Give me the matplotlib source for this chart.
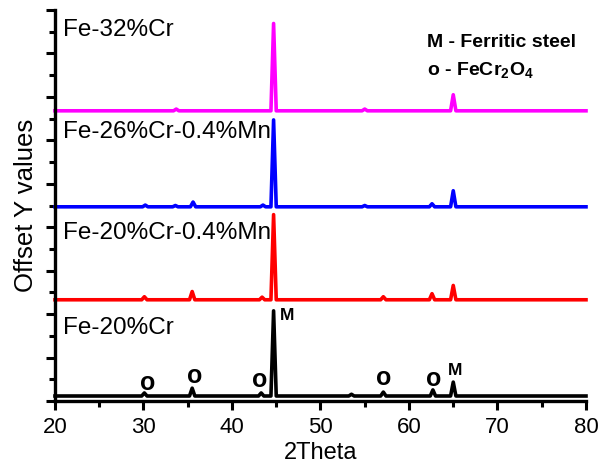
import matplotlib
matplotlib.use('Agg')
import matplotlib.pyplot as plt

plt.rcParams['font.family'] = ['Liberation Sans', 'DejaVu Sans']
plt.rcParams['mathtext.fontset'] = 'custom'
plt.rcParams['mathtext.rm'] = 'Liberation Sans:bold'
plt.rcParams['mathtext.bf'] = 'Liberation Sans:bold'

# XRD traces, bottom to top: baseline offset, peak positions (2theta) and heights
names = ["Fe-20%Cr", "Fe-20%Cr-0.4%Mn", "Fe-26%Cr-0.4%Mn", "Fe-32%Cr"]
colors = ["black", "#FF0000", "#0000FF", "#FF00FF"]
baselines = [0.115, 2.33, 4.47, 6.68]
peak_pos = [
    [30.1, 35.5, 43.3, 44.7, 53.5, 57.1, 62.7, 65.0],
    [30.1, 35.5, 43.4, 44.7, 57.1, 62.6, 65.0],
    [30.2, 33.6, 35.6, 43.5, 44.7, 55.0, 62.6, 65.0],
    [33.7, 44.7, 55.0, 65.0],
]
peak_h = [
    [0.07, 0.18, 0.07, 1.96, 0.04, 0.09, 0.14, 0.32],
    [0.07, 0.19, 0.06, 1.96, 0.07, 0.14, 0.33],
    [0.04, 0.03, 0.11, 0.04, 2.00, 0.03, 0.07, 0.37],
    [0.04, 2.01, 0.04, 0.37],
]
label_y = [1.68, 3.87, 6.20, 8.55]

# phase markers on the bottom trace
o_x = [30.5, 35.8, 43.1, 57.1, 62.8]
o_y = [0.42, 0.58, 0.48, 0.54, 0.50]
m_x = [46.2, 65.2]
m_y = [1.96, 0.71]

fig = plt.figure(figsize=(5.99, 4.66), dpi=100)
ax = fig.add_axes([0.0918, 0.1395, 0.8865, 0.839])

hw = 0.3
for base, pos, hts, c in zip(baselines, peak_pos, peak_h, colors):
    xs, ys = [20], [base]
    for p, h in zip(pos, hts):
        xs += [p - hw, p, p + hw]
        ys += [base, base + h, base]
    xs.append(80)
    ys.append(base)
    ax.plot(xs, ys, color=c, lw=2.6, solid_joinstyle='round', clip_on=False)

for name, y in zip(names, label_y):
    ax.text(20.9, y, name, fontsize=17.5, va='center', ha='left')

for x, y in zip(o_x, o_y):
    ax.text(x, y, 'o', fontsize=18, fontweight='bold', ha='center', va='center')
for x, y in zip(m_x, m_y):
    ax.text(x, y, 'M', fontsize=12.5, fontweight='bold', ha='center', va='center')

ax.text(62.0, 8.25, 'M - Ferritic steel', fontsize=14, fontweight='bold', va='center')
ax.text(62.0, 7.60, r'o - FeCr$_{2}$O$_{4}$', fontsize=14, fontweight='bold', va='center')

ax.set_xlim(20, 80)
ax.set_ylim(0, 9)
ax.set_xticks(range(20, 81, 10))
ax.set_xticks(range(25, 80, 10), minor=True)
ax.set_yticks(range(0, 10))
ax.set_yticks([i + 0.5 for i in range(9)], minor=True)
ax.set_yticklabels([])
ax.tick_params(axis='both', which='major', direction='out', length=6.5, width=2.2,
               labelsize=16, pad=5)
ax.tick_params(axis='both', which='minor', direction='out', length=4, width=2.2)
for s in ['top', 'right']:
    ax.spines[s].set_visible(False)
for s in ['left', 'bottom']:
    ax.spines[s].set_linewidth(2.4)

ax.set_xlabel('2Theta', fontsize=17, labelpad=3)
ax.set_ylabel('Offset Y values', fontsize=18.5, labelpad=1)

fig.savefig('out.png', dpi=100)
